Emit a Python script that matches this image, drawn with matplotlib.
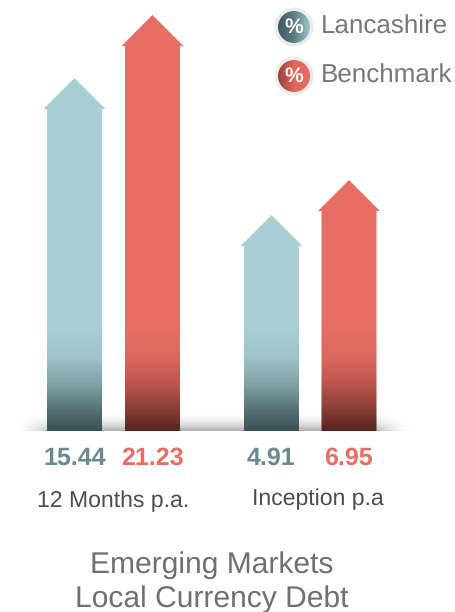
# arrow chart, teal vs red
import numpy as np
import matplotlib.pyplot as plt
from matplotlib.colors import LinearSegmentedColormap
from matplotlib.patches import Circle, Polygon

plt.rcParams['font.family'] = ['Liberation Sans', 'DejaVu Sans']
plt.rcParams['text.hinting'] = 'no_hinting'
plt.rcParams['text.hinting_factor'] = 1

# data
categories = ['12 Months p.a.', 'Inception p.a']
series_names = ['Lancashire', 'Benchmark']
lancashire = [15.44, 4.91]
benchmark = [21.23, 6.95]
# drawn arrow heights (not in scale with the labels)
lancashire_height = [353, 216]
benchmark_height = [416, 251]
title_lines = ['Emerging Markets', 'Local Currency Debt']

TEAL = LinearSegmentedColormap.from_list('teal', [(0, '#3b5156'), (0.05, '#587479'), (0.11, '#83a4a9'),
                                                  (0.17, '#9fc4ca'), (0.24, '#a9cfd5'), (1, '#a9cfd5')])
RED = LinearSegmentedColormap.from_list('red', [(0, '#57251f'), (0.05, '#8a3f38'), (0.11, '#bd574e'),
                                                (0.17, '#dc685d'), (0.24, '#e76e63'), (1, '#e76e63')])
GREY = '#6f7073'

fig = plt.figure(figsize=(4.55, 6.12), dpi=100)
# chart axes: x in px, y is height above the baseline
ax = fig.add_axes([0, 0, 1, 1])
ax.set_xlim(0, 455)
ax.set_ylim(-181, 431)
ax.axis('off')

# shadow on the baseline
xx, yy = np.meshgrid(np.linspace(-1, 1, 400), np.linspace(0, 1, 40))
shadow = np.zeros((40, 400, 4))
shadow[..., :3] = 0.25
shadow[..., 3] = 0.42 * np.clip(1 - yy, 0, 1) ** 2 * np.clip((1 - np.abs(xx)) * 5, 0, 1) ** 1.5
ax.imshow(shadow, extent=[15, 412, 0, 20], origin='lower', aspect='auto', zorder=1)


def arrow(xc, h, cmap):
    pts = [(xc - 27.5, 0), (xc - 27.5, h - 31), (xc - 31, h - 31), (xc, h),
           (xc + 31, h - 31), (xc + 27.5, h - 31), (xc + 27.5, 0)]
    grad = np.linspace(0, 1, 431).reshape(-1, 1)
    im = ax.imshow(grad, extent=[xc - 32, xc + 32, 0, 431], origin='lower', aspect='auto',
                   cmap=cmap, vmin=0, vmax=1, zorder=2)
    patch = Polygon(pts, closed=True, transform=ax.transData, fc='none', ec='none')
    ax.add_patch(patch)
    im.set_clip_path(patch)


def badge(yc, cmap):
    ax.add_patch(Circle((294, yc), 19.5, fc='#ececeb', ec='none', zorder=3))
    grad = np.linspace(0, 1, 64).reshape(1, -1)
    im = ax.imshow(grad, extent=[278, 310, yc - 16, yc + 16], origin='lower', aspect='auto',
                   cmap=cmap, vmin=0, vmax=1, zorder=4)
    c = Circle((294, yc), 16, transform=ax.transData, fc='none', ec='none')
    ax.add_patch(c)
    im.set_clip_path(c)
    ax.text(294, yc - 0.5, '%', color='white', fontsize=15, fontweight='bold',
            ha='center', va='center', zorder=5)


group_x = [(74.5, 152.5), (271.5, 349)]
label_x = [(75, 152.5), (270.5, 348.5)]
cat_x = [113, 318]
cat_y = [-70, -68]

for i, cat in enumerate(categories):
    arrow(group_x[i][0], lancashire_height[i], TEAL)
    arrow(group_x[i][1], benchmark_height[i], RED)
    ax.text(label_x[i][0], -27, f'{lancashire[i]:.2f}', color='#6b8a90', fontsize=17.8,
            fontweight='bold', ha='center', va='center')
    ax.text(label_x[i][1], -27, f'{benchmark[i]:.2f}', color='#e76e63', fontsize=17.8,
            fontweight='bold', ha='center', va='center')
    ax.text(cat_x[i], cat_y[i], cat, color='#4d4d4f', fontsize=16.3 if i == 0 else 16.8,
            ha='center', va='center')

ax.set_xlim(0, 455)
ax.set_ylim(-181, 431)

# legend
badge(404, LinearSegmentedColormap.from_list('t', ['#3f5a60', '#5c7d83', '#9cc5ca']))
badge(355, LinearSegmentedColormap.from_list('r', ['#99423a', '#e0665b', '#e76e63']))
ax.text(321, 404, series_names[0], color='#77787b', fontsize=18.4, va='center', ha='left')
ax.text(321, 355, series_names[1], color='#77787b', fontsize=18.4, va='center', ha='left')

# title
ax.text(212, -134, title_lines[0], color=GREY, fontsize=21.9, ha='center', va='center')
ax.text(212, -168, title_lines[1], color=GREY, fontsize=21.9, ha='center', va='center')

fig.savefig('out.png', dpi=100)
